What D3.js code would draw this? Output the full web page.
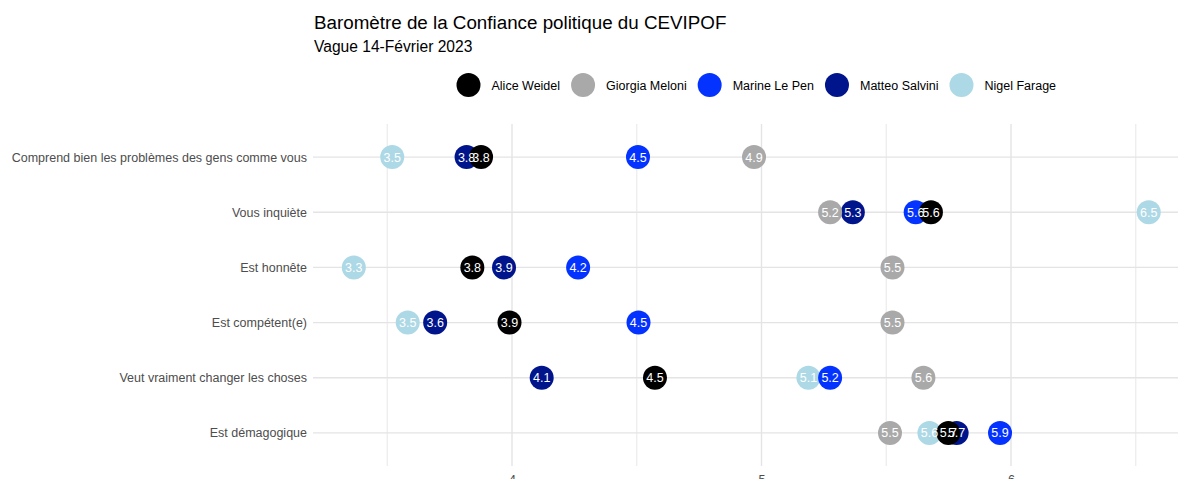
<!DOCTYPE html>
<html>
<head>
<meta charset="utf-8">
<script src="https://cdn.jsdelivr.net/npm/d3@7"></script>
<style>
  body { margin: 0; background: #fff; }
  svg { font-family: "Liberation Sans", Arial, sans-serif; display: block; }
</style>
</head>
<body>
<svg width="1178" height="479"></svg>
<script>
const categories = [
  "Comprend bien les problèmes des gens comme vous",
  "Vous inquiète",
  "Est honnête",
  "Est compétent(e)",
  "Veut vraiment changer les choses",
  "Est démagogique"
];
const series = ["Alice Weidel", "Giorgia Meloni", "Marine Le Pen", "Matteo Salvini", "Nigel Farage"];
const colors = ["#000000", "#a9a9a9", "#0433ff", "#00148c", "#add8e6"];

// one value per category, same order as categories
const aliceWeidel   = [3.876, 5.679, 3.841, 3.990, 4.573, 5.749];
const giorgiaMeloni = [4.970, 5.275, 5.525, 5.525, 5.649, 5.515];
const marineLePen   = [4.505, 5.618, 4.265, 4.507, 5.275, 5.956];
const matteoSalvini = [3.818, 5.366, 3.968, 3.692, 4.119, 5.782];
const nigelFarage   = [3.520, 6.552, 3.366, 3.582, 5.188, 5.673];
const xTicks = [4, 5, 6];

const values = [aliceWeidel, giorgiaMeloni, marineLePen, matteoSalvini, nigelFarage];

const svg = d3.select("svg"),
      pLeft = 313, pRight = 1178, pTop = 124, pBottom = 466;

const x = d3.scaleLinear().domain([3.2024, 6.6693]).range([pLeft, pRight]);
const y = d3.scalePoint().domain(categories).range([pTop, pBottom]).padding(0.6);
const color = d3.scaleOrdinal().domain(series).range(colors);

const points = [];
// drawing order as in the original (later ones on top)
series.slice().reverse().forEach(s => {
  const vals = values[series.indexOf(s)];
  categories.forEach((c, i) => points.push({ series: s, cat: c, value: vals[i] }));
});

// title
svg.append("text").attr("x", 314).attr("y", 29)
  .attr("font-size", 18.8).attr("fill", "#000")
  .text("Baromètre de la Confiance politique du CEVIPOF");
svg.append("text").attr("x", 314).attr("y", 52)
  .attr("font-size", 15.6).attr("fill", "#000")
  .text("Vague 14-Février 2023");

// grid
const grid = svg.append("g");
const minor = [3.5, 4.5, 5.5, 6.5];
grid.selectAll(".minor").data(minor).enter().append("line")
  .attr("x1", d => x(d)).attr("x2", d => x(d))
  .attr("y1", pTop).attr("y2", pBottom)
  .attr("stroke", "#ebebeb").attr("stroke-width", 1.2);
grid.selectAll(".major").data(xTicks).enter().append("line")
  .attr("x1", d => x(d)).attr("x2", d => x(d))
  .attr("y1", pTop).attr("y2", pBottom)
  .attr("stroke", "#e4e4e4").attr("stroke-width", 1.4);
grid.selectAll(".hline").data(categories).enter().append("line")
  .attr("x1", pLeft).attr("x2", pRight)
  .attr("y1", d => y(d)).attr("y2", d => y(d))
  .attr("stroke", "#e4e4e4").attr("stroke-width", 1.4);

// axes (text only, like theme_minimal)
const yAxis = svg.append("g")
  .attr("transform", `translate(${pLeft},0)`)
  .call(d3.axisLeft(y).tickSize(0).tickPadding(6));
yAxis.select(".domain").remove();
yAxis.selectAll("text").attr("font-size", 12.5).attr("fill", "#4d4d4d")
  .attr("font-family", "Liberation Sans, Arial, sans-serif");

const xAxis = svg.append("g")
  .attr("transform", `translate(0,${pBottom})`)
  .call(d3.axisBottom(x).tickValues(xTicks).tickFormat(d3.format("d")).tickSize(0).tickPadding(9));
xAxis.select(".domain").remove();
xAxis.selectAll("text").attr("font-size", 12.5).attr("fill", "#4d4d4d")
  .attr("font-family", "Liberation Sans, Arial, sans-serif");

// points
svg.append("g").selectAll("circle").data(points).enter().append("circle")
  .attr("cx", d => x(d.value)).attr("cy", d => y(d.cat))
  .attr("r", 12).attr("fill", d => color(d.series));

svg.append("g").selectAll("text").data(points).enter().append("text")
  .attr("x", d => x(d.value)).attr("y", d => y(d.cat))
  .attr("dy", "0.36em").attr("text-anchor", "middle")
  .attr("font-size", 12.5).attr("fill", "#fff")
  .text(d => (Math.floor(d.value * 10 + 1e-9) / 10).toFixed(1));

// legend
const legend = svg.append("g").attr("transform", "translate(0,85)");
let lx = 468.5;
series.forEach(s => {
  legend.append("circle").attr("cx", lx).attr("cy", 0).attr("r", 12).attr("fill", color(s));
  const t = legend.append("text").attr("x", lx + 23).attr("y", 0).attr("dy", "0.36em")
    .attr("font-size", 12.5).attr("fill", "#000").text(s);
  lx += 23 + t.node().getComputedTextLength() + 23;
});
</script>
</body>
</html>
